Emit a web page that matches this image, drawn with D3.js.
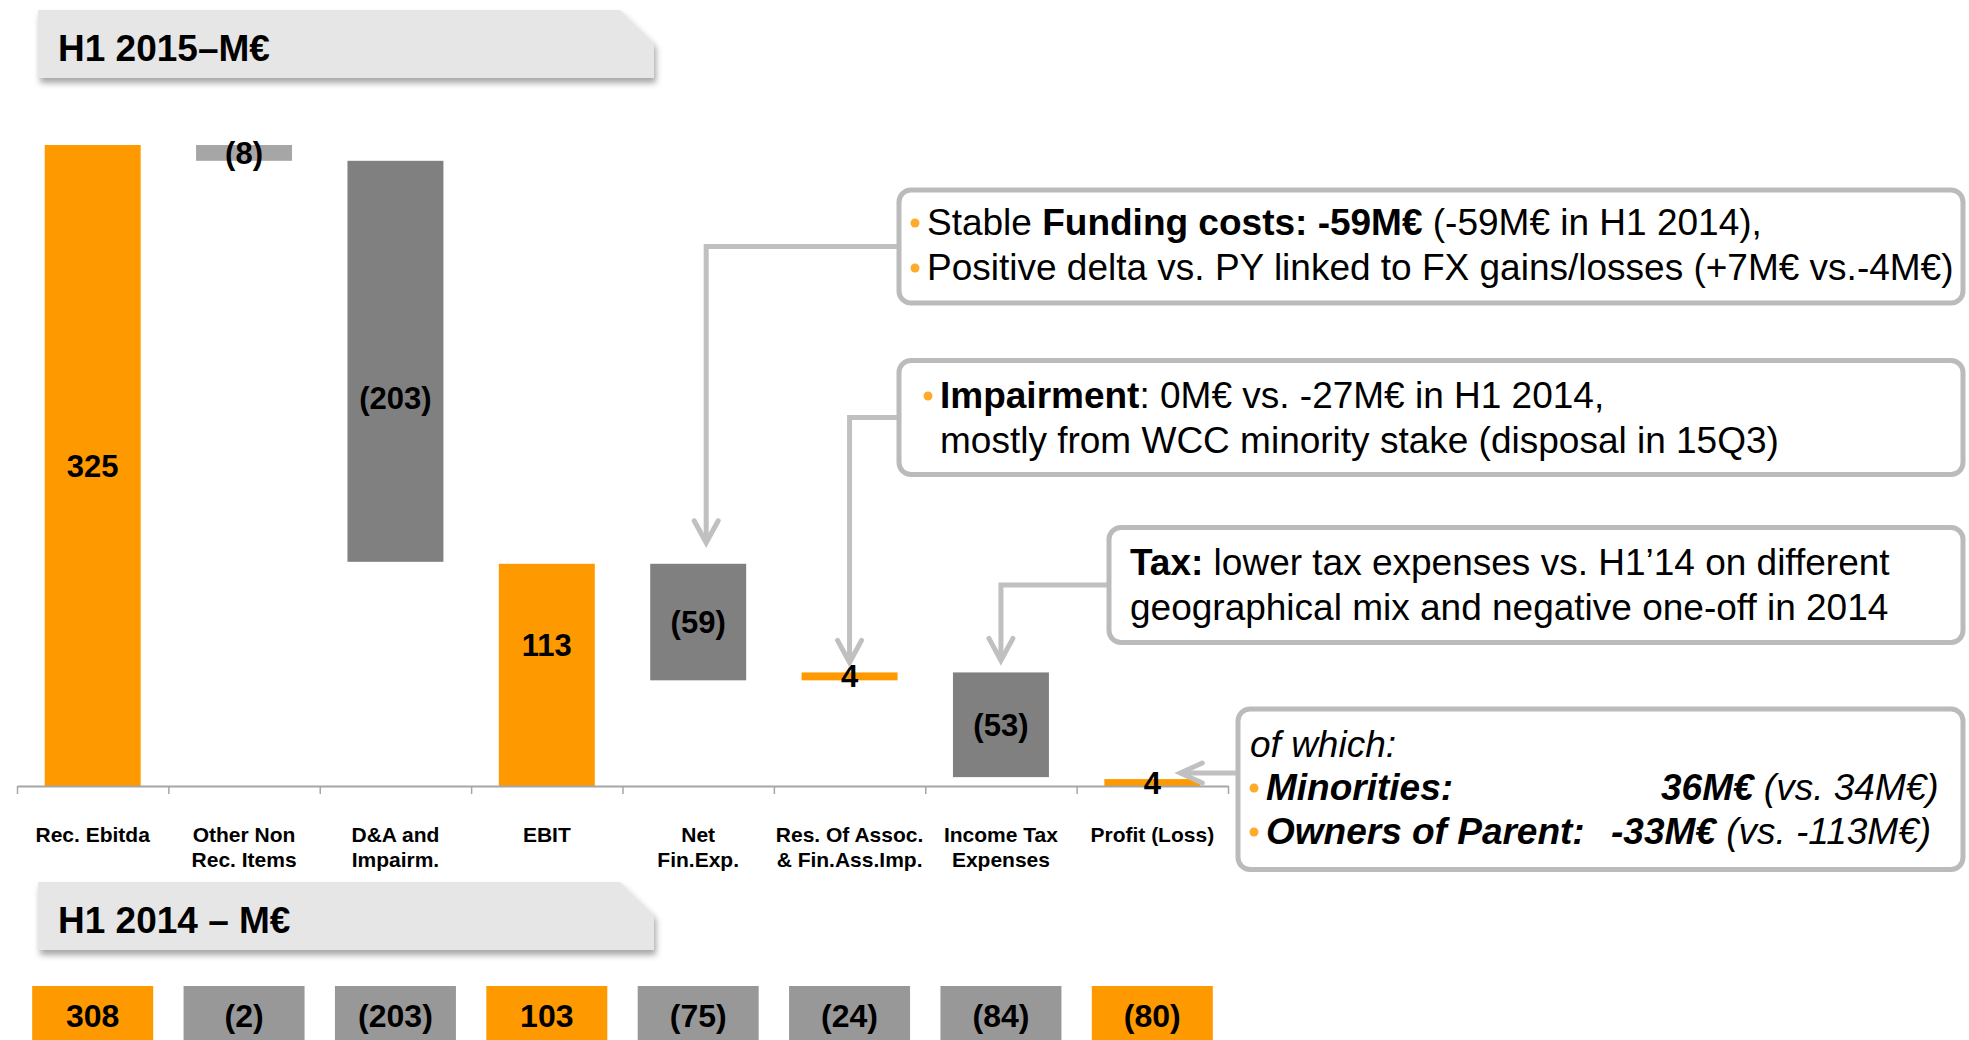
<!DOCTYPE html>
<html>
<head>
<meta charset="utf-8">
<script src="https://cdn.jsdelivr.net/npm/d3@7"></script>
<style>
  body { margin: 0; background: #fff; }
  svg { display: block; font-family: "Liberation Sans", Arial, sans-serif; }
</style>
</head>
<body>
<div id="main"></div>
<script>
// H1 2015 waterfall, M€
const categories = ["Rec. Ebitda", "Other Non\nRec. Items", "D&A and\nImpairm.", "EBIT", "Net\nFin.Exp.",
                    "Res. Of Assoc.\n& Fin.Ass.Imp.", "Income Tax\nExpenses", "Profit (Loss)"];
const values2015 = [325, -8, -203, 113, -59, 4, -53, 4];
const isTotal = [true, false, false, true, false, false, false, true];
// H1 2014 comparison row
const values2014 = [308, -2, -203, 103, -75, -24, -84, -80];
const titles = ["H1 2015–M€", "H1 2014 – M€"];

// callout texts: each line is a list of [text, style] segments
const noteFunding = [
  [["Stable ", ""], ["Funding costs: -59M€", "b"], [" (-59M€ in H1 2014),", ""]],
  [["Positive delta vs. PY linked to FX gains/losses (+7M€ vs.-4M€)", ""]]
];
const noteImpairment = [
  [["Impairment", "b"], [": 0M€ vs. -27M€ in H1 2014,", ""]],
  [["mostly from WCC minority stake (disposal in 15Q3)", ""]]
];
const noteTax = [
  [["Tax:", "b"], [" lower tax expenses vs. H1’14 on different", ""]],
  [["geographical mix and negative one-off in 2014", ""]]
];
const noteProfit = [
  [["of which:", "i"]],
  [["Minorities:", "bi"], ["36M€", "bi"], [" (vs. 34M€)", "i"]],
  [["Owners of Parent:", "bi"], ["-33M€", "bi"], [" (vs. -113M€)", "i"]]
];

const ctx = { W: 1969, H: 1040 };
const ORANGE = "#FF9900", GREY = "#808080", LGREY = "#A6A6A6", BOXGREY = "#989898";
const LINE = "#C0C0C0", BULLET = "#FFAA2A";

function fmt(v) { return v < 0 ? "(" + Math.abs(v) + ")" : String(v); }

function createViz() {
  const svg = d3.select("#main").append("svg")
      .attr("width", ctx.W).attr("height", ctx.H);

  const defs = svg.append("defs");
  const f = defs.append("filter").attr("id", "shadow")
      .attr("x", "-5%").attr("y", "-20%").attr("width", "115%").attr("height", "160%");
  f.append("feDropShadow").attr("dx", 2).attr("dy", 5).attr("stdDeviation", 3)
      .attr("flood-color", "#000").attr("flood-opacity", 0.35);

  // waterfall steps
  let run = 0;
  const steps = values2015.map((v, i) => {
    let s;
    if (isTotal[i]) { s = { i: i, v: v, lo: 0, hi: v }; run = v; }
    else { s = { i: i, v: v, lo: Math.min(run, run + v), hi: Math.max(run, run + v) }; run += v; }
    return s;
  });

  const x = d3.scaleBand().domain(d3.range(categories.length))
      .range([17, 1228]).paddingInner(0.366).paddingOuter(0.183);
  const y = d3.scaleLinear().domain([0, 325]).range([787, 145]);
  const cx = i => x(i) + x.bandwidth() / 2;

  // title banners
  function banner(y0, text) {
    const g = svg.append("g");
    g.append("path")
        .attr("d", `M38,${y0} H620 L654,${y0 + 33} V${y0 + 68} H38 Z`)
        .attr("fill", "#E6E6E6").attr("filter", "url(#shadow)");
    g.append("text").attr("x", 58).attr("y", y0 + 51)
        .attr("font-size", 37).attr("font-weight", "bold").text(text);
  }
  banner(10, titles[0]);
  banner(882, titles[1]);

  // bars
  const fill = (d) => {
    if (d.i === 1) return LGREY;
    return (isTotal[d.i] || d.v > 0) ? ORANGE : GREY;
  };
  svg.append("g").selectAll("rect").data(steps).enter().append("rect")
      .attr("x", d => x(d.i)).attr("width", x.bandwidth())
      .attr("y", d => y(d.hi)).attr("height", d => y(d.lo) - y(d.hi))
      .attr("fill", fill);

  // axis
  const axisScale = d3.scaleLinear().domain([0, categories.length]).range([17, 1228]);
  const ax = svg.append("g").attr("transform", "translate(0,786)")
      .call(d3.axisBottom(axisScale).tickValues(d3.range(categories.length + 1))
        .tickSize(8).tickSizeOuter(0).tickFormat(""));
  ax.select(".domain").attr("stroke", "#A6A6A6").attr("stroke-width", 2);
  ax.selectAll(".tick line").attr("stroke", "#A6A6A6").attr("stroke-width", 1.5);

  // bar labels
  const labelShift = { 2: 37, 3: -30 };
  svg.append("g").selectAll("text").data(steps).enter().append("text")
      .attr("x", d => cx(d.i))
      .attr("y", d => (y(d.hi) + y(d.lo)) / 2 + (labelShift[d.i] || 0))
      .attr("dy", "0.35em").attr("text-anchor", "middle")
      .attr("font-size", 31).attr("font-weight", "bold")
      .text(d => fmt(d.v));

  // category labels
  const cat = svg.append("g").attr("font-size", 21).attr("font-weight", "bold")
      .attr("text-anchor", "middle");
  categories.forEach((c, i) => {
    const t = cat.append("text").attr("x", cx(i)).attr("y", 842);
    c.split("\n").forEach((line, k) => {
      t.append("tspan").attr("x", cx(i)).attr("y", 842 + k * 25).text(line);
    });
  });

  // 2014 row
  const row = svg.append("g");
  values2014.forEach((v, i) => {
    row.append("rect").attr("x", cx(i) - 60.5).attr("y", 986)
        .attr("width", 121).attr("height", 70)
        .attr("fill", (isTotal[i]) ? ORANGE : BOXGREY);
    row.append("text").attr("x", cx(i)).attr("y", 1027)
        .attr("text-anchor", "middle").attr("font-size", 32).attr("font-weight", "bold")
        .text(fmt(v));
  });

  // connectors with open arrow heads
  const conn = svg.append("g").attr("fill", "none").attr("stroke", LINE)
      .attr("stroke-width", 5).attr("stroke-linejoin", "miter");
  const downArrow = (x0, y0, ax0, tip) => {
    conn.append("path").attr("d", `M${x0},${y0} H${ax0} V${tip - 2}`);
    conn.append("path").attr("stroke-linecap", "round")
        .attr("d", `M${ax0 - 12},${tip - 22} L${ax0},${tip} L${ax0 + 12},${tip - 22}`);
  };
  downArrow(899, 246.5, cx(4) + 8, y(steps[4].hi) - 21);
  downArrow(899, 417.5, cx(5), y(steps[5].hi) - 10);
  downArrow(1109, 585, cx(6), y(steps[6].hi) - 12);
  const lx = x(7) + x.bandwidth() - 20, ly = y(steps[7].hi) - 6;
  conn.append("path").attr("d", `M1238,${ly} H${lx + 2}`);
  conn.append("path").attr("stroke-linecap", "round")
      .attr("d", `M${lx + 22},${ly - 10} L${lx},${ly} L${lx + 22},${ly + 10}`);

  // callout boxes
  const boxes = [
    { x: 899, y: 190, y2: 303 },
    { x: 899, y: 360.5, y2: 474.5 },
    { x: 1109, y: 527.5, y2: 642.5 },
    { x: 1238, y: 709, y2: 869.5 }
  ];
  svg.append("g").selectAll("rect").data(boxes).enter().append("rect")
      .attr("x", d => d.x).attr("y", d => d.y)
      .attr("width", d => 1963 - d.x).attr("height", d => d.y2 - d.y)
      .attr("rx", 12).attr("fill", "#fff").attr("stroke", "#BBBBBB").attr("stroke-width", 5);

  function writeLine(segs, x0, base, bullet, bx, opts) {
    const t = svg.append("text").attr("x", x0).attr("y", base).attr("font-size", 37)
        .attr("xml:space", "preserve");
    segs.forEach((s, k) => {
      const ts = t.append("tspan").text(s[0]);
      if (s[1].includes("b")) ts.attr("font-weight", "bold");
      if (s[1].includes("i")) ts.attr("font-style", "italic");
      if (opts && opts[k] != null) ts.attr("x", opts[k]);
    });
    if (bullet) {
      svg.append("circle").attr("cx", bx).attr("cy", base - 12).attr("r", 4.5).attr("fill", BULLET);
    }
  }
  writeLine(noteFunding[0], 927, 235, true, 915);
  writeLine(noteFunding[1], 927, 280, true, 915);
  writeLine(noteImpairment[0], 940, 408, true, 928);
  writeLine(noteImpairment[1], 940, 453, false);
  writeLine(noteTax[0], 1130, 575, false);
  writeLine(noteTax[1], 1130, 620, false);
  writeLine(noteProfit[0], 1250, 757, false);
  writeLine(noteProfit[1], 1266, 800, true, 1254, { 1: 1661 });
  writeLine(noteProfit[2], 1266, 844, true, 1254, { 1: 1611 });
}

createViz();
</script>
</body>
</html>
